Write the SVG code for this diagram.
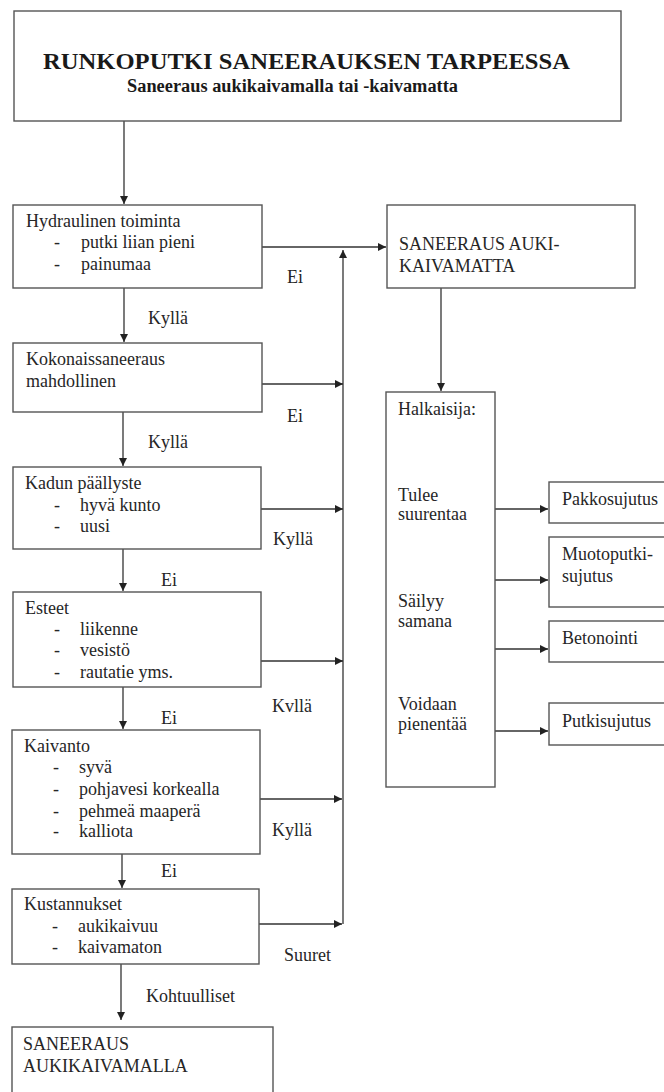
<svg xmlns="http://www.w3.org/2000/svg" width="664" height="1092" viewBox="0 0 664 1092">
<defs>
<marker id="arr" viewBox="0 0 10 10" refX="10" refY="5" markerUnits="userSpaceOnUse" markerWidth="9" markerHeight="8" orient="auto">
<path d="M0,0 L10,5 L0,10 z" fill="#222"/>
</marker>
<style>
.box{fill:#fff;stroke:#555;stroke-width:1.4}
.ln{stroke:#333;stroke-width:1.3;fill:none;marker-end:url(#arr)}
text{font-family:"Liberation Serif","Times New Roman",serif;font-size:18px;fill:#262626}
.title{font-weight:bold;font-size:24px;fill:#1a1a1a}
.sub{font-weight:bold;font-size:18px;fill:#1a1a1a}
</style>
</defs>
<rect width="664" height="1092" fill="#fff"/>

<g id="connectors">
<line class="ln" x1="124" y1="121" x2="124" y2="204"/>
<line class="ln" x1="262" y1="247" x2="386" y2="247"/>
<line class="ln" x1="343" y1="924" x2="343" y2="250"/>
<line class="ln" x1="262" y1="384" x2="343" y2="384"/>
<line class="ln" x1="261" y1="509" x2="343" y2="509"/>
<line class="ln" x1="261" y1="661" x2="343" y2="661"/>
<line class="ln" x1="260" y1="799" x2="342" y2="799"/>
<line class="ln" x1="259" y1="924" x2="342" y2="924"/>
<line class="ln" x1="124" y1="288" x2="124" y2="342"/>
<line class="ln" x1="123" y1="412" x2="123" y2="466"/>
<line class="ln" x1="123" y1="549" x2="123" y2="591"/>
<line class="ln" x1="123" y1="687" x2="123" y2="729"/>
<line class="ln" x1="122" y1="854" x2="122" y2="888"/>
<line class="ln" x1="121" y1="964" x2="121" y2="1020"/>
<line class="ln" x1="441" y1="288" x2="441" y2="391"/>
<line class="ln" x1="495" y1="509" x2="548" y2="509"/>
<line class="ln" x1="495" y1="580" x2="548" y2="580"/>
<line class="ln" x1="495" y1="649" x2="548" y2="649"/>
<line class="ln" x1="495" y1="731" x2="548" y2="731"/>
<text x="287" y="283">Ei</text>
<text x="148" y="324">Kyllä</text>
<text x="287" y="422">Ei</text>
<text x="148" y="448">Kyllä</text>
<text x="273" y="545">Kyllä</text>
<text x="161" y="586">Ei</text>
<text x="272" y="712">Kvllä</text>
<text x="161" y="724">Ei</text>
<text x="272" y="836">Kyllä</text>
<text x="161" y="877">Ei</text>
<text x="284" y="961">Suuret</text>
<text x="146" y="1002">Kohtuulliset</text>
</g>

<g id="n-title">
<rect class="box" x="14" y="11" width="607" height="110"/>
<text class="title" x="43" y="69" textLength="527" lengthAdjust="spacingAndGlyphs">RUNKOPUTKI SANEERAUKSEN TARPEESSA</text>
<text class="sub" x="127" y="92" textLength="331" lengthAdjust="spacingAndGlyphs">Saneeraus aukikaivamalla tai -kaivamatta</text>
</g>

<g id="n-hydraulinen">
<rect class="box" x="13" y="205" width="249" height="83"/>
<text x="26" y="227">Hydraulinen toiminta</text>
<text x="54" y="248">-</text><text x="81" y="248">putki liian pieni</text>
<text x="54" y="270">-</text><text x="81" y="270">painumaa</text>
</g>

<g id="n-kokonais">
<rect class="box" x="13" y="343" width="249" height="69"/>
<text x="26" y="365">Kokonaissaneeraus</text>
<text x="26" y="387">mahdollinen</text>
</g>

<g id="n-kadun">
<rect class="box" x="13" y="467" width="248" height="82"/>
<text x="25" y="489">Kadun päällyste</text>
<text x="54" y="511">-</text><text x="80" y="511">hyvä kunto</text>
<text x="54" y="532">-</text><text x="80" y="532">uusi</text>
</g>

<g id="n-esteet">
<rect class="box" x="13" y="592" width="248" height="95"/>
<text x="25" y="614">Esteet</text>
<text x="54" y="635">-</text><text x="80" y="635">liikenne</text>
<text x="54" y="656">-</text><text x="80" y="656">vesistö</text>
<text x="54" y="678">-</text><text x="80" y="678">rautatie yms.</text>
</g>

<g id="n-kaivanto">
<rect class="box" x="12" y="730" width="248" height="124"/>
<text x="24" y="752">Kaivanto</text>
<text x="53" y="773">-</text><text x="79" y="773">syvä</text>
<text x="53" y="795">-</text><text x="79" y="795">pohjavesi korkealla</text>
<text x="53" y="817">-</text><text x="79" y="817">pehmeä maaperä</text>
<text x="53" y="837">-</text><text x="79" y="837">kalliota</text>
</g>

<g id="n-kustannukset">
<rect class="box" x="12" y="889" width="247" height="75"/>
<text x="24" y="910">Kustannukset</text>
<text x="52" y="932">-</text><text x="78" y="932">aukikaivuu</text>
<text x="52" y="953">-</text><text x="78" y="953">kaivamaton</text>
</g>

<g id="n-aukikaivamalla">
<rect class="box" x="12" y="1027" width="261" height="80"/>
<text x="23" y="1050">SANEERAUS</text>
<text x="23" y="1072">AUKIKAIVAMALLA</text>
</g>

<g id="n-kaivamatta">
<rect class="box" x="387" y="205" width="248" height="83"/>
<text x="399" y="250">SANEERAUS AUKI-</text>
<text x="399" y="272">KAIVAMATTA</text>
</g>

<g id="n-halkaisija">
<rect class="box" x="386" y="392" width="109" height="395"/>
<text x="398" y="415">Halkaisija:</text>
<text x="398" y="501">Tulee</text>
<text x="398" y="520">suurentaa</text>
<text x="398" y="607">Säilyy</text>
<text x="398" y="627">samana</text>
<text x="398" y="710">Voidaan</text>
<text x="398" y="730">pienentää</text>
</g>

<g id="n-pakkosujutus">
<rect class="box" x="549" y="482" width="120" height="41"/>
<text x="562" y="505">Pakkosujutus</text>
</g>

<g id="n-muotoputki">
<rect class="box" x="549" y="537" width="120" height="70"/>
<text x="562" y="560">Muotoputki-</text>
<text x="562" y="582">sujutus</text>
</g>

<g id="n-betonointi">
<rect class="box" x="549" y="621" width="120" height="41"/>
<text x="562" y="644">Betonointi</text>
</g>

<g id="n-putkisujutus">
<rect class="box" x="549" y="703" width="120" height="42"/>
<text x="562" y="727">Putkisujutus</text>
</g>
</svg>
